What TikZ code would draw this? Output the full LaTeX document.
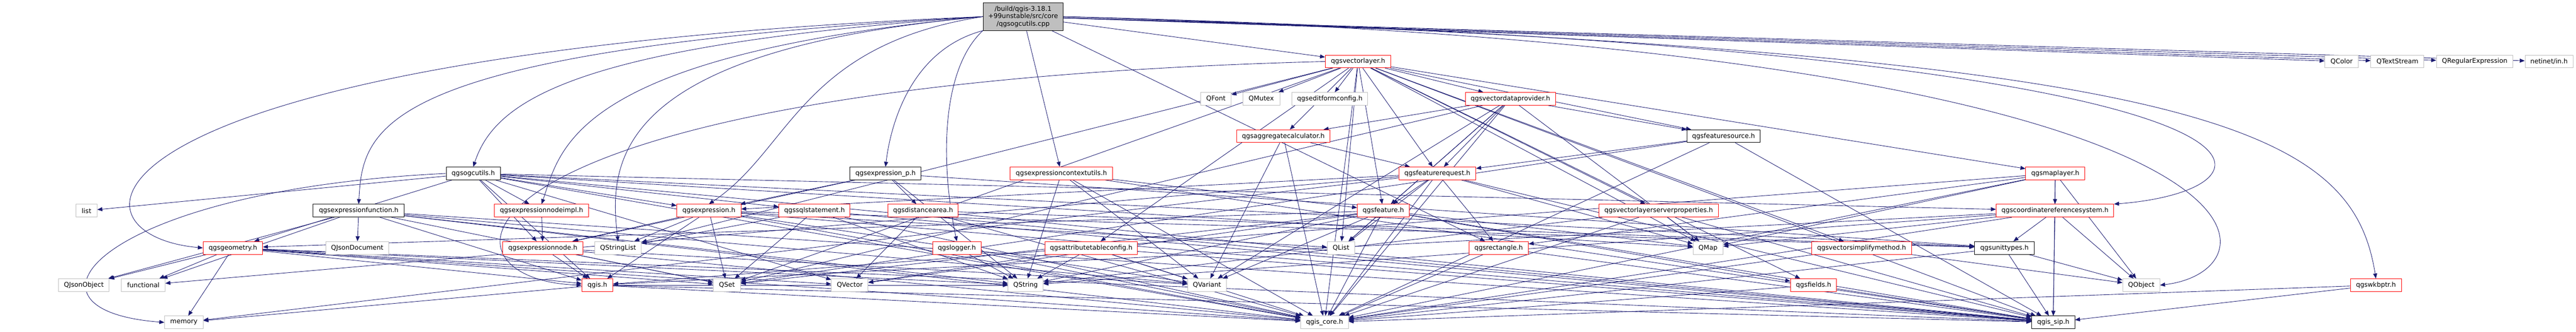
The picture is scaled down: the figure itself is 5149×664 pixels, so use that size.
\documentclass[tikz,border=0pt]{standalone}
\usepackage{fontspec}
\setmainfont{DejaVu Sans}
\usetikzlibrary{arrows.meta,backgrounds}
\definecolor{depblue}{HTML}{191970}
\definecolor{sysgray}{HTML}{BFBFBF}
\tikzset{
  incbox/.style={draw, line width=1pt, fill=white, minimum height=25.5pt, inner sep=0pt, font=\fontsize{13}{15}\selectfont},
  redinc/.style={incbox, draw=red},
  docinc/.style={incbox, draw=black},
  sysinc/.style={incbox, draw=sysgray},
  dep/.style={depblue, line width=0.9pt, -{Triangle[length=10pt,width=8pt]}},
}
\begin{document}
\begin{tikzpicture}[x=1pt,y=-1pt]
\useasboundingbox (0,0) rectangle (5149,664);

% the file itself
\node[docinc, fill=sysgray, minimum width=160pt, minimum height=55pt, align=center] (root) at (2045,33.3) {/build/qgis-3.18.1\\+99unstable/src/core\\/qgsogcutils.cpp};

% rank 1
\node[redinc, minimum width=131pt] (vlayer) at (2714.5,123) {qgsvectorlayer.h};
\node[sysinc, minimum width=67pt] (qcolor) at (4680.5,123) {QColor};
\node[sysinc, minimum width=106pt] (qtextstream) at (4792,123) {QTextStream};
\node[sysinc, minimum width=153pt] (qregexp) at (4946.5,123) {QRegularExpression};
\node[sysinc, minimum width=96pt] (netinet) at (5095,123) {netinet/in.h};

% rank 2
\node[sysinc, minimum width=61pt] (qfont) at (2430.5,197.7) {QFont};
\node[sysinc, minimum width=74pt] (qmutex) at (2521,197.7) {QMutex};
\node[sysinc, minimum width=152pt] (editform) at (2658,197.7) {qgseditformconfig.h};
\node[redinc, minimum width=180pt] (vdp) at (3019,197.7) {qgsvectordataprovider.h};

% rank 3
\node[redinc, minimum width=186pt] (aggcalc) at (2565,272.4) {qgsaggregatecalculator.h};
\node[docinc, minimum width=146pt] (fsource) at (3445,272.4) {qgsfeaturesource.h};

% rank 4
\node[docinc, minimum width=108pt] (ogcutils) at (946,347) {qgsogcutils.h};
\node[docinc, minimum width=142pt] (exprp) at (1770,347) {qgsexpression\_p.h};
\node[redinc, minimum width=205pt] (ctxutils) at (2121.5,347) {qgsexpressioncontextutils.h};
\node[redinc, minimum width=154pt] (freq) at (2873,347) {qgsfeaturerequest.h};
\node[redinc, minimum width=118pt] (maplayer) at (4108,347) {qgsmaplayer.h};

% rank 5
\node[sysinc, minimum width=42pt] (list) at (173,421.5) {list};
\node[docinc, minimum width=182pt] (exprfunc) at (717,421.5) {qgsexpressionfunction.h};
\node[redinc, minimum width=189pt] (nodeimpl) at (1082.5,421.5) {qgsexpressionnodeimpl.h};
\node[redinc, minimum width=128pt] (expr) at (1417,421.5) {qgsexpression.h};
\node[redinc, minimum width=142pt] (sqlstmt) at (1628,421.5) {qgssqlstatement.h};
\node[redinc, minimum width=140pt] (distarea) at (1845,421.5) {qgsdistancearea.h};
\node[redinc, minimum width=104pt] (feature) at (2765,421.5) {qgsfeature.h};
\node[redinc, minimum width=239pt] (vlsp) at (3315.5,421.5) {qgsvectorlayerserverproperties.h};
\node[redinc, minimum width=235pt] (crs) at (4107.5,421.5) {qgscoordinatereferencesystem.h};

% rank 6
\node[redinc, minimum width=119pt] (geometry) at (465.5,496) {qgsgeometry.h};
\node[sysinc, minimum width=126pt] (jsondoc) at (714,496) {QJsonDocument};
\node[redinc, minimum width=160pt] (exprnode) at (1085,496) {qgsexpressionnode.h};
\node[sysinc, minimum width=93pt] (qstringlist) at (1235.5,496) {QStringList};
\node[redinc, minimum width=97pt] (logger) at (1912.5,496) {qgslogger.h};
\node[redinc, minimum width=184pt] (attrtable) at (2181,496) {qgsattributetableconfig.h};
\node[sysinc, minimum width=55pt] (qlist) at (2680.5,496) {QList};
\node[redinc, minimum width=119pt] (rect) at (2995.5,496) {qgsrectangle.h};
\node[sysinc, minimum width=60pt] (qmap) at (3414,496) {QMap};
\node[redinc, minimum width=200pt] (vsimp) at (3721,496) {qgsvectorsimplifymethod.h};
\node[docinc, minimum width=119pt] (unittypes) at (4006.5,496) {qgsunittypes.h};

% rank 7
\node[sysinc, minimum width=101pt] (jsonobj) at (167.5,570.5) {QJsonObject};
\node[sysinc, minimum width=87pt] (functional) at (286.5,570.5) {functional};
\node[redinc, minimum width=62pt] (qgis) at (1194,570.5) {qgis.h};
\node[sysinc, minimum width=54pt] (qset) at (1453,570.5) {QSet};
\node[sysinc, minimum width=73pt] (qvector) at (1698.5,570.5) {QVector};
\node[sysinc, minimum width=70pt] (qstring) at (2050,570.5) {QString};
\node[sysinc, minimum width=77pt] (qvariant) at (2412.5,570.5) {QVariant};
\node[redinc, minimum width=92pt] (fields) at (3625,570.5) {qgsfields.h};
\node[sysinc, minimum width=74pt] (qobject) at (4280,570.5) {QObject};
\node[redinc, minimum width=102pt] (wkbptr) at (4749,570.5) {qgswkbptr.h};

% rank 8
\node[sysinc, minimum width=77pt] (memory) at (367.5,645) {memory};
\node[sysinc, minimum width=95pt] (core) at (2647.5,645) {qgis\_core.h};
\node[docinc, minimum width=86pt] (sip) at (4104,645) {qgis\_sip.h};

\begin{scope}[on background layer]
% qgsogcutils.cpp
\draw[dep] (root.west) .. controls (1150,90) and (990,200) .. (ogcutils.north);
\draw[dep] (root.west) .. controls (760,100) and (725,250) .. (exprfunc.north);
\draw[dep] (root.west) .. controls (120,110) and (110,470) .. (geometry.west);
\draw[dep] (root.west) .. controls (1140,110) and (1120,300) .. (nodeimpl.north);
\draw[dep] (root.west) .. controls (1230,100) and (1215,320) .. (qstringlist.north);
\draw[dep] (root.west) .. controls (1600,90) and (1580,300) .. (expr.north);
\draw[dep] (root.south west) .. controls (1820,100) and (1780,250) .. (exprp.north);
\draw[dep] (root.south west) .. controls (1880,140) and (1880,330) .. (logger.north);
\draw[dep] (root) -- (ctxutils);
\draw[dep] (root) -- (rect);
\draw[dep] (root) -- (vlayer);
\draw[dep] (root) -- (qcolor);
\draw[dep] (root) -- (qtextstream);
\draw[dep] (root) -- (qregexp);
\draw[dep] (root) -- (netinet);
\draw[dep] (root.east) .. controls (4400,105) and (4700,250) .. (wkbptr.north);
\draw[dep] (root.east) .. controls (4600,95) and (4580,540) .. (qobject.east);
\draw[dep] (root.east) .. controls (4700,100) and (4600,380) .. (crs.north east);

% qgsogcutils.h
\draw[dep] (ogcutils) -- (list);
\draw[dep] (ogcutils.west) .. controls (200,380) and (0,620) .. (memory.west);
\draw[dep] (ogcutils) -- (geometry);
\draw[dep] (ogcutils) -- (nodeimpl);
\draw[dep] (ogcutils) -- (exprnode);
\draw[dep] (ogcutils) -- (expr);
\draw[dep] (ogcutils) -- (sqlstmt);
\draw[dep] (ogcutils) -- (qgis);
\draw[dep] (ogcutils) -- (core);
\draw[dep] (ogcutils) -- (sip);
\draw[dep] (ogcutils) -- (crs);
\draw[dep] (ogcutils) -- (unittypes);
\draw[dep] (ogcutils) -- (qvector);
\draw[dep] (ogcutils) -- (qmap);

% qgsexpressionfunction.h
\draw[dep] (exprfunc) -- (jsondoc);
\draw[dep] (exprfunc) -- (jsonobj);
\draw[dep] (exprfunc) -- (functional);
\draw[dep] (exprfunc) -- (qset);
\draw[dep] (exprfunc) -- (qstring);
\draw[dep] (exprfunc) -- (qvariant);
\draw[dep] (exprfunc) -- (qgis);
\draw[dep] (exprfunc) -- (core);
\draw[dep] (exprfunc) -- (sip);

% qgsexpressionnodeimpl.h
\draw[dep] (nodeimpl) -- (exprnode);

% qgsexpression.h
\draw[dep] (expr) -- (exprnode);
\draw[dep] (expr) -- (qstringlist);
\draw[dep] (expr) -- (qgis);
\draw[dep] (expr) -- (qset);
\draw[dep] (expr) -- (core);
\draw[dep] (expr) -- (sip);
\draw[dep] (expr) -- (qvariant);
\draw[dep] (expr) -- (qlist);
\draw[dep] (expr) -- (unittypes);

% qgssqlstatement.h
\draw[dep] (sqlstmt) -- (qstringlist);
\draw[dep] (sqlstmt) -- (qset);
\draw[dep] (sqlstmt) -- (qstring);
\draw[dep] (sqlstmt) -- (core);
\draw[dep] (sqlstmt) -- (sip);

% qgsexpression_p.h
\draw[dep] (exprp) -- (distarea);
\draw[dep] (exprp) -- (qstring);
\draw[dep] (exprp) -- (expr);
\draw[dep] (exprp) -- (exprnode);
\draw[dep] (exprp) -- (unittypes);

% qgsexpressioncontextutils.h
\draw[dep] (ctxutils) -- (qstring);
\draw[dep] (ctxutils) -- (core);
\draw[dep] (ctxutils) -- (sip);
\draw[dep] (ctxutils) -- (feature);
\draw[dep] (ctxutils) -- (qvariant);

% qgsdistancearea.h
\draw[dep] (distarea) -- (qvector);
\draw[dep] (distarea) -- (unittypes);
\draw[dep] (distarea) -- (core);
\draw[dep] (distarea) -- (sip);

% qgslogger.h
\draw[dep] (logger) -- (qstring);
\draw[dep] (logger) -- (core);

% qgsattributetableconfig.h
\draw[dep] (attrtable) -- (qstring);
\draw[dep] (attrtable) -- (qvariant);
\draw[dep] (attrtable) -- (qvector);
\draw[dep] (attrtable) -- (core);
\draw[dep] (attrtable) -- (sip);

% qgsvectorlayer.h
\draw[dep] (vlayer) -- (qfont);
\draw[dep] (vlayer) -- (qmutex);
\draw[dep] (vlayer) -- (editform);
\draw[dep] (vlayer) -- (vdp);
\draw[dep] (vlayer) -- (aggcalc);
\draw[dep] (vlayer) -- (freq);
\draw[dep] (vlayer) -- (feature);
\draw[dep] (vlayer) -- (qlist);
\draw[dep] (vlayer) -- (vlsp);
\draw[dep] (vlayer) -- (fsource);
\draw[dep] (vlayer) -- (attrtable);
\draw[dep] (vlayer) -- (maplayer);
\draw[dep] (vlayer) -- (vsimp);
\draw[dep] (vlayer) -- (fields);
\draw[dep] (vlayer) -- (qmap);
\draw[dep] (vlayer.west) .. controls (860,170) and (840,560) .. (qgis.west);
\draw[dep] (vlayer) -- (qstringlist);
\draw[dep] (vlayer) -- (qset);
\draw[dep] (vlayer) -- (core);
\draw[dep] (vlayer) -- (sip);

% qgsaggregatecalculator.h
\draw[dep] (aggcalc) -- (freq);
\draw[dep] (aggcalc) -- (qvariant);
\draw[dep] (aggcalc) -- (core);

% qgsvectordataprovider.h
\draw[dep] (vdp) -- (aggcalc);
\draw[dep] (vdp) -- (freq);
\draw[dep] (vdp) -- (feature);
\draw[dep] (vdp) -- (qlist);
\draw[dep] (vdp) -- (core);
\draw[dep] (vdp) -- (fsource);
\draw[dep] (vdp) -- (qmap);
\draw[dep] (vdp) -- (qset);
\draw[dep] (vdp) -- (qvariant);

% qgsfeaturesource.h
\draw[dep] (fsource) -- (freq);
\draw[dep] (fsource) -- (core);
\draw[dep] (fsource) -- (sip);
\draw[dep] (fsource) -- (qset);

% qgsfeaturerequest.h
\draw[dep] (freq) -- (feature);
\draw[dep] (freq) -- (qlist);
\draw[dep] (freq) -- (rect);
\draw[dep] (freq) -- (core);
\draw[dep] (freq) -- (expr);
\draw[dep] (freq) -- (sip);
\draw[dep] (freq) -- (memory);
\draw[dep] (freq) -- (functional);
\draw[dep] (freq) -- (qmap);

% qgsfeature.h
\draw[dep] (feature) -- (qlist);
\draw[dep] (feature) -- (core);
\draw[dep] (feature) -- (sip);
\draw[dep] (feature) -- (fields);
\draw[dep] (feature) -- (qvariant);
\draw[dep] (feature) -- (qstring);
\draw[dep] (feature) -- (qvector);
\draw[dep] (feature) -- (qset);
\draw[dep] (feature) -- (qmap);
\draw[dep] (feature) -- (geometry);

% qgsvectorlayerserverproperties.h
\draw[dep] (vlsp) -- (qmap);
\draw[dep] (vlsp) -- (core);
\draw[dep] (vlsp) -- (sip);
\draw[dep] (vlsp) -- (qstring);

% qgsmaplayer.h
\draw[dep] (maplayer) -- (crs);
\draw[dep] (maplayer) -- (qobject);
\draw[dep] (maplayer) -- (core);
\draw[dep] (maplayer) -- (sip);
\draw[dep] (maplayer) -- (qgis);
\draw[dep] (maplayer) -- (rect);
\draw[dep] (maplayer) -- (qmap);

% qgscoordinatereferencesystem.h
\draw[dep] (crs) -- (unittypes);
\draw[dep] (crs) -- (qobject);
\draw[dep] (crs) -- (core);
\draw[dep] (crs) -- (sip);
\draw[dep] (crs) -- (qmap);
\draw[dep] (crs) -- (qstring);
\draw[dep] (crs) -- (qgis);

% qgsrectangle.h, qgsvectorsimplifymethod.h, qgsunittypes.h
\draw[dep] (rect) -- (core);
\draw[dep] (rect) -- (sip);
\draw[dep] (vsimp) -- (core);
\draw[dep] (vsimp) -- (qobject);
\draw[dep] (unittypes) -- (qobject);
\draw[dep] (unittypes) -- (sip);
\draw[dep] (unittypes) -- (core);

% qgsgeometry.h
\draw[dep] (geometry) -- (jsonobj);
\draw[dep] (geometry) -- (functional);
\draw[dep] (geometry) -- (memory);
\draw[dep] (geometry) -- (core);
\draw[dep] (geometry) -- (sip);
\draw[dep] (geometry) -- (qset);
\draw[dep] (geometry) -- (qvector);
\draw[dep] (geometry) -- (qstring);
\draw[dep] (geometry) -- (qgis);

% qgsexpressionnode.h
\draw[dep] (exprnode) -- (qgis);
\draw[dep] (exprnode) -- (qset);
\draw[dep] (exprnode) -- (qvariant);
\draw[dep] (exprnode) -- (core);

% qgis.h, qgsfields.h, qgswkbptr.h
\draw[dep] (qgis) -- (memory);
\draw[dep] (qgis) -- (qstring);
\draw[dep] (qgis) -- (core);
\draw[dep] (qgis) -- (sip);
\draw[dep] (fields) -- (core);
\draw[dep] (fields) -- (sip);
\draw[dep] (wkbptr) -- (core);
\draw[dep] (wkbptr) -- (sip);
\end{scope}
\end{tikzpicture}
\end{document}
